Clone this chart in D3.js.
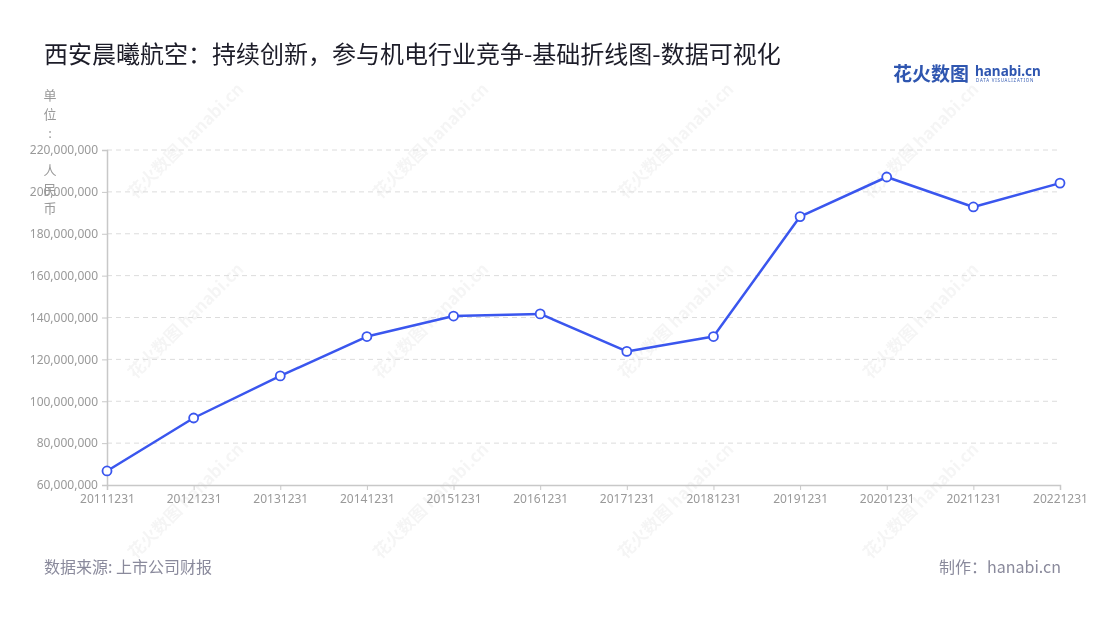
<!DOCTYPE html>
<html>
<head>
<meta charset="utf-8">
<script src="https://cdn.jsdelivr.net/npm/d3@7"></script>
<style>
  body { margin: 0; background: #fff; }
  svg { display: block; font-family: "Noto Sans CJK SC", "Noto Sans", sans-serif; }
</style>
</head>
<body>
<script>
const width = 1100
const height = 620

// 报告期
const dates = ['20111231', '20121231', '20131231', '20141231', '20151231', '20161231',
    '20171231', '20181231', '20191231', '20201231', '20211231', '20221231']

// 数值（人民币），从图上读的
const values = [66700000, 92000000, 112100000, 130900000, 140700000, 141700000,
    123800000, 130900000, 188200000, 207100000, 192800000, 204200000]

const yTicks = [60000000, 80000000, 100000000, 120000000, 140000000,
    160000000, 180000000, 200000000, 220000000]

const title = '西安晨曦航空：持续创新，参与机电行业竞争-基础折线图-数据可视化'
const unitLabel = '单位: 人民币'
const source = '数据来源: 上市公司财报'
const credit = '制作：hanabi.cn'

const margin = { top: 150, right: 40, bottom: 135, left: 107 }
const blue = '#3a56ee'

const svg = d3.select('body').append('svg')
    .attr('width', width)
    .attr('height', height)

// 水印
const wm = svg.append('g').attr('fill', '#000').attr('opacity', 0.04)
for (let i = 0; i < 4; i++) {
    for (let j = 0; j < 3; j++) {
        const g = wm.append('g')
            .attr('transform', `translate(${190 + i * 245}, ${145 + j * 180}) rotate(-45)`)
        g.append('text').attr('text-anchor', 'middle').attr('font-size', 17)
            .attr('font-weight', 'bold').text('花火数图 hanabi.cn')
    }
}

const x = d3.scalePoint()
    .domain(dates)
    .range([margin.left, width - margin.right])

const y = d3.scaleLinear()
    .domain([60000000, 220000000])
    .range([height - margin.bottom, margin.top])

// 网格线
svg.append('g')
    .selectAll('line')
    .data(yTicks.slice(1))
    .enter()
    .append('line')
    .attr('x1', margin.left)
    .attr('x2', width - margin.right)
    .attr('y1', d => y(d))
    .attr('y2', d => y(d))
    .attr('stroke', '#dcdcdc')
    .attr('stroke-dasharray', '5,4')

// y轴
const yAxis = svg.append('g')
    .attr('transform', `translate(${margin.left},0)`)
    .call(d3.axisLeft(y).tickValues(yTicks).tickSize(5).tickPadding(4)
        .tickFormat(d3.format(',')))
yAxis.select('.domain').attr('stroke', '#c8c8c8').attr('stroke-width', 1.5)
yAxis.selectAll('.tick line').attr('stroke', '#c8c8c8')
yAxis.selectAll('.tick text').attr('fill', '#999').attr('font-size', 12)
    .attr('font-family', '"Noto Sans", sans-serif')

// x轴
const xAxis = svg.append('g')
    .attr('transform', `translate(0,${height - margin.bottom})`)
    .call(d3.axisBottom(x).tickSize(5).tickPadding(4))
xAxis.select('.domain').attr('stroke', '#c8c8c8').attr('stroke-width', 1.5)
xAxis.selectAll('.tick line').attr('stroke', '#c8c8c8')
xAxis.selectAll('.tick text').attr('fill', '#999').attr('font-size', 12)
    .attr('font-family', '"Noto Sans", sans-serif')

// 竖排单位
svg.append('g')
    .selectAll('text')
    .data(Array.from(unitLabel))
    .enter()
    .append('text')
    .attr('x', 50)
    .attr('y', (d, i) => 100 + i * 18.8)
    .attr('text-anchor', 'middle')
    .attr('font-size', 13)
    .attr('fill', '#999')
    .text(d => d)

// 折线
const line = d3.line()
    .x((d, i) => x(dates[i]))
    .y(d => y(d))

svg.append('path')
    .datum(values)
    .attr('d', line)
    .attr('fill', 'none')
    .attr('stroke', blue)
    .attr('stroke-width', 2.5)
    .attr('stroke-linejoin', 'round')

svg.append('g')
    .selectAll('circle')
    .data(values)
    .enter()
    .append('circle')
    .attr('cx', (d, i) => x(dates[i]))
    .attr('cy', d => y(d))
    .attr('r', 4.5)
    .attr('fill', '#fff')
    .attr('stroke', blue)
    .attr('stroke-width', 1.8)

// 标题
svg.append('text')
    .attr('x', 44)
    .attr('y', 63)
    .attr('font-size', 24)
    .attr('fill', '#1c1c28')
    .text(title)

// logo
const logo = svg.append('g').attr('transform', 'translate(893,81)')
logo.append('text').attr('font-size', 19).attr('font-weight', 'bold')
    .attr('fill', '#2f56b0').text('花火数图')
logo.append('text').attr('x', 82).attr('y', -5).attr('font-size', 13.5)
    .attr('font-weight', 'bold').attr('fill', '#2f56b0')
    .attr('font-family', '"Noto Sans", sans-serif').text('hanabi.cn')
logo.append('text').attr('x', 83).attr('y', 1).attr('font-size', 4.4)
    .attr('fill', '#2f56b0').attr('letter-spacing', 0.8)
    .attr('font-family', '"Noto Sans", sans-serif').text('DATA VISUALIZATION')

// 底部
svg.append('text')
    .attr('x', 44)
    .attr('y', 573)
    .attr('font-size', 16)
    .attr('fill', '#8a8a9c')
    .text(source)

svg.append('text')
    .attr('x', 1061)
    .attr('y', 573)
    .attr('text-anchor', 'end')
    .attr('font-size', 16)
    .attr('fill', '#8a8a9c')
    .text(credit)
</script>
</body>
</html>
